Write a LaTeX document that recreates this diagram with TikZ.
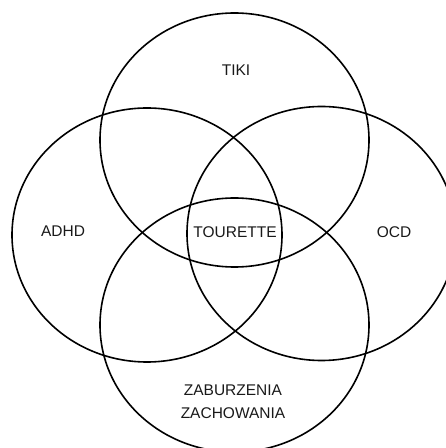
\documentclass[tikz,border=0pt]{standalone}
\usepackage{fontspec}
\setmainfont{Liberation Sans}
\begin{document}
\begin{tikzpicture}[x=1pt,y=1pt,line width=1.6pt,
  lbl/.style={font=\fontsize{15.5}{23}\selectfont,color=black!90,align=center}]
\useasboundingbox (0,0) rectangle (446,448);
\clip (0,0) rectangle (446,448);
\draw (234.5,308) ellipse [x radius=134.5,y radius=127]; % tiki
\draw (147,213) ellipse [x radius=135,y radius=127]; % adhd
\draw (321.5,214.5) ellipse [x radius=134.5,y radius=127]; % ocd
\draw (234.5,123) ellipse [x radius=134.5,y radius=127]; % zaburzenia
\draw node [lbl] (tiki) at (236,378) {TIKI};
\draw node [lbl] (adhd) at (63,217) {ADHD};
\draw node [lbl] (ocd) at (394,216) {OCD};
\draw node [lbl] (tourette) at (235,216) {TOURETTE};
\draw node [lbl] (zab) at (233,46.5) {ZABURZENIA\\ZACHOWANIA};
\end{tikzpicture}
\end{document}
